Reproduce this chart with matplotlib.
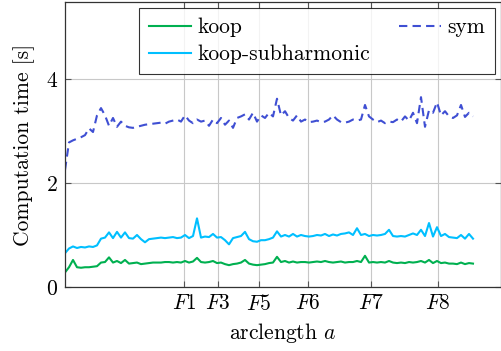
import numpy as np
import matplotlib
matplotlib.use("Agg")
import matplotlib.pyplot as plt

plt.rcParams['font.family'] = 'serif'
plt.rcParams['font.serif'] = ['cmr10']
plt.rcParams['mathtext.fontset'] = 'cm'
plt.rcParams['axes.formatter.use_mathtext'] = True

tick_pos = [184, 218, 259, 308, 371, 438]
tick_labels = ['$F1$', '$F3$', '$F5$', '$F6$', '$F7$', '$F8$']
y_ticks = [0, 2, 4]

sym = [2.25, 2.78, 2.82, 2.85, 2.88, 2.92, 3.05, 2.98, 3.30, 3.44,
       3.30, 3.10, 3.25, 3.08, 3.18, 3.10, 3.07, 3.06, 3.08, 3.10,
       3.12, 3.13, 3.14, 3.15, 3.16, 3.14, 3.18, 3.20, 3.22, 3.18,
       3.30, 3.20, 3.15, 3.22, 3.18, 3.20, 3.10, 3.22, 3.15, 3.25,
       3.12, 3.20, 3.06, 3.25, 3.28, 3.32, 3.22, 3.35, 3.18, 3.30,
       3.25, 3.35, 3.28, 3.62, 3.30, 3.38, 3.25, 3.20, 3.30, 3.18,
       3.22, 3.17, 3.18, 3.20, 3.17, 3.18, 3.22, 3.30, 3.22, 3.17,
       3.16, 3.18, 3.22, 3.20, 3.22, 3.50, 3.28, 3.22, 3.17, 3.20,
       3.15, 3.18, 3.17, 3.22, 3.18, 3.28, 3.20, 3.35, 3.15, 3.65,
       3.08, 3.40, 3.35, 3.55, 3.30, 3.38, 3.28, 3.25, 3.30, 3.50,
       3.27, 3.35, 3.28]

koop_sub = [0.65, 0.74, 0.78, 0.75, 0.77, 0.76, 0.78, 0.77, 0.80, 0.93,
            0.95, 1.05, 0.94, 1.06, 0.95, 1.05, 0.94, 0.93, 1.00, 0.92,
            0.86, 0.92, 0.93, 0.94, 0.95, 0.94, 0.95, 0.96, 0.94, 0.95,
            1.00, 0.94, 0.98, 1.32, 0.95, 0.97, 0.96, 1.02, 0.95, 0.96,
            0.90, 0.82, 0.94, 0.96, 0.98, 1.06, 0.92, 0.88, 0.87, 0.90,
            0.90, 0.92, 0.95, 1.07, 0.97, 1.00, 0.97, 1.02, 0.97, 1.00,
            0.98, 0.97, 0.98, 1.00, 0.99, 1.02, 0.98, 1.01, 0.99, 1.02,
            1.03, 1.05, 1.00, 1.13, 1.00, 1.02, 0.98, 1.00, 0.99, 1.00,
            1.02, 1.10, 0.98, 0.97, 0.98, 0.97, 1.00, 1.03, 1.00, 1.10,
            0.98, 1.23, 0.97, 1.15, 0.98, 1.02, 0.96, 0.95, 0.94, 1.00,
            0.93, 1.02, 0.93]

koop = [0.28, 0.38, 0.52, 0.38, 0.37, 0.38, 0.38, 0.39, 0.40, 0.47,
        0.48, 0.57, 0.47, 0.50, 0.46, 0.52, 0.45, 0.46, 0.47, 0.44,
        0.45, 0.46, 0.47, 0.47, 0.47, 0.48, 0.48, 0.47, 0.48, 0.47,
        0.50, 0.47, 0.49, 0.56, 0.48, 0.47, 0.48, 0.50, 0.46, 0.47,
        0.44, 0.42, 0.44, 0.45, 0.47, 0.52, 0.45, 0.43, 0.42, 0.43,
        0.44, 0.46, 0.47, 0.58, 0.48, 0.50, 0.47, 0.49, 0.47, 0.48,
        0.48, 0.47, 0.48, 0.49, 0.48, 0.50, 0.48, 0.47, 0.48, 0.49,
        0.47, 0.48, 0.48, 0.50, 0.48, 0.60, 0.47, 0.48, 0.47, 0.48,
        0.47, 0.50, 0.47, 0.46, 0.47, 0.46, 0.48, 0.47, 0.48, 0.50,
        0.47, 0.52, 0.46, 0.50, 0.46, 0.47, 0.45, 0.45, 0.44, 0.47,
        0.44, 0.46, 0.45]

x = 65 + 4 * np.arange(len(sym))

fig = plt.figure(figsize=(5.02, 3.51), dpi=100)
ax = fig.add_axes([65/502, 1 - 287/351, (501-65)/502, (287-2)/351])

c_koop = '#00b050'
c_sub = '#00bfff'
c_sym = '#3f4fd3'

ax.plot(x, koop, color=c_koop, lw=1.5, label='koop')
ax.plot(x, koop_sub, color=c_sub, lw=1.5, label='koop-subharmonic')
ax.plot(x, sym, color=c_sym, lw=1.5, ls=(0, (4, 2.5)), label='sym')

ax.set_xlim(65, 501)
ax.set_ylim(0, 5.48)
ax.set_xticks(tick_pos)
ax.set_xticklabels(tick_labels)
ax.set_yticks(y_ticks)
ax.grid(True, color='#c8c8c8', lw=0.8)
ax.set_axisbelow(True)
ax.tick_params(direction='in', top=True, right=True, length=4, width=0.8,
               labelsize=15.5, color='#555555', pad=5)
for s in ax.spines.values():
    s.set_linewidth(0.9)
    s.set_color('#333333')

ax.set_xlabel('arclength $a$', fontsize=15.5, labelpad=5)
ax.set_ylabel('Computation time [s]', fontsize=15.5, labelpad=8)

leg = ax.legend(ncol=2, loc='upper right', bbox_to_anchor=(0.986, 0.979),
                fontsize=15.5, frameon=True, fancybox=False, edgecolor='black',
                handlelength=1.95, columnspacing=1.35, borderpad=0.45,
                labelspacing=0.35, handletextpad=0.3, borderaxespad=0.0)
leg.get_frame().set_linewidth(0.8)

fig.savefig('out.png', dpi=100)
